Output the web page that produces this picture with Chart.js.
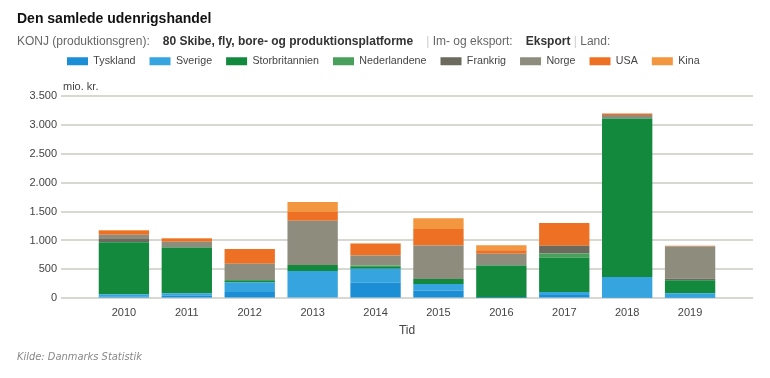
<!DOCTYPE html>
<html lang="da">
<head>
<meta charset="utf-8">
<title>Den samlede udenrigshandel</title>
<script src="https://cdn.jsdelivr.net/npm/chart.js@4/dist/chart.umd.min.js"></script>
<style>
  html, body { margin: 0; padding: 0; background: #fff; }
  body { width: 770px; height: 378px; position: relative; overflow: hidden;
         font-family: 'Liberation Sans', Arial, sans-serif; }
  .title { position: absolute; left: 17px; top: 10px; font-size: 14px; font-weight: bold; color: #111; }
  .subtitle { position: absolute; left: 17px; top: 34px; font-size: 12px; color: #666; white-space: nowrap; }
  .subtitle b { color: #333; }
  .subtitle .sep { color: #ccc; }
  .gap { display: inline-block; width: 13px; }
  .source { position: absolute; left: 17px; top: 350px; font-size: 11px; font-style: italic; color: #888;
            font-family: 'Liberation Sans Narrow', 'DejaVu Sans Condensed', Arial, sans-serif; }
  .chart-wrap { position: absolute; left: 0; top: 0; width: 770px; height: 378px; }
</style>
</head>
<body>
<div class="chart-wrap"><canvas id="trade-chart"></canvas></div>
<div class="title">Den samlede udenrigshandel</div>
<div class="subtitle">KONJ (produktionsgren):<span class="gap"></span><b>80 Skibe, fly, bore- og produktionsplatforme</b><span class="gap"></span><span class="sep">|</span> Im- og eksport:<span class="gap"></span><b>Eksport</b> <span class="sep">|</span> Land:</div>
<div class="source">Kilde: Danmarks Statistik</div>
<script>
const years = ['2010', '2011', '2012', '2013', '2014', '2015', '2016', '2017', '2018', '2019'];
const yTicks = [0, 500, 1000, 1500, 2000, 2500, 3000, 3500];

// mio. kr. per land
const tyskland = [30, 50, 110, 15, 270, 135, 5, 60, 10, 10];
const sverige = [40, 40, 165, 460, 240, 115, 5, 50, 360, 77];
const storbritannien = [900, 790, 40, 100, 45, 85, 560, 595, 2735, 225];
const nederlandene = [5, 0, 0, 0, 13, 0, 0, 70, 0, 0];
const frankrig = [50, 5, 0, 0, 0, 0, 0, 133, 0, 30];
const norge = [75, 95, 285, 765, 173, 577, 200, 0, 63, 553];
const usa = [70, 52, 254, 150, 202, 288, 63, 392, 23, 12];
const kina = [10, 10, 0, 173, 10, 185, 86, 0, 0, 0];

const series = [
  { label: 'Tyskland', data: tyskland, colour: '#1b8ed5' },
  { label: 'Sverige', data: sverige, colour: '#35a4df' },
  { label: 'Storbritannien', data: storbritannien, colour: '#13893e' },
  { label: 'Nederlandene', data: nederlandene, colour: '#48a05a' },
  { label: 'Frankrig', data: frankrig, colour: '#6b6a5c' },
  { label: 'Norge', data: norge, colour: '#8e8c7d' },
  { label: 'USA', data: usa, colour: '#ee7024' },
  { label: 'Kina', data: kina, colour: '#f2963f' },
];

function formatThousands(value) {
  return String(value).replace(/\B(?=(\d{3})+(?!\d))/g, '.');
}

// empty slot at each end so the grid runs past the first and last bar
const paddedLabels = ['', ...years, ''];

const unitLabelPlugin = {
  id: 'unitLabel',
  afterDraw(chart) {
    const { ctx, chartArea } = chart;
    ctx.save();
    ctx.fillStyle = '#444';
    ctx.font = "11px 'Liberation Sans', Arial, sans-serif";
    ctx.textAlign = 'left';
    ctx.textBaseline = 'middle';
    ctx.fillText('mio. kr.', chartArea.left + 2, chartArea.top - 9);
    ctx.restore();
  },
};

// extra room under the legend, and shift it right to sit over the plot
const legendTweakPlugin = {
  id: 'legendTweak',
  beforeInit(chart) {
    const legend = chart.legend;
    const originalFit = legend.fit;
    const originalDraw = legend.draw;
    legend.fit = function fit() {
      originalFit.call(this);
      this.height += 19;
    };
    legend.draw = function draw(...args) {
      this.ctx.save();
      this.ctx.translate(33, 0);
      originalDraw.apply(this, args);
      this.ctx.restore();
    };
  },
};

Chart.defaults.font.family = "'Liberation Sans', Arial, sans-serif";
Chart.defaults.color = '#444';

new Chart(document.getElementById('trade-chart'), {
  type: 'bar',
  data: {
    labels: paddedLabels,
    datasets: series.map((s) => ({
      label: s.label,
      data: [null, ...s.data, null],
      backgroundColor: s.colour,
      borderWidth: 0,
      barPercentage: 0.8,
      categoryPercentage: 1,
    })),
  },
  plugins: [legendTweakPlugin, unitLabelPlugin],
  options: {
    responsive: true,
    maintainAspectRatio: false,
    animation: false,
    layout: { padding: { top: 42, left: 20, right: 17, bottom: 40 } },
    plugins: {
      legend: {
        position: 'top',
        align: 'start',
        labels: {
          boxWidth: 21,
          boxHeight: 8,
          padding: 14,
          color: '#444',
          font: { size: 10.7 },
        },
      },
      tooltip: { enabled: false },
    },
    scales: {
      x: {
        stacked: true,
        offset: false,
        grid: { display: false },
        border: { display: false },
        ticks: { color: '#444', font: { size: 11 }, padding: 0, maxRotation: 0, autoSkip: false },
        title: { display: true, text: 'Tid', color: '#444', font: { size: 12 }, padding: { top: 4, bottom: 0 } },
      },
      y: {
        stacked: true,
        min: 0,
        max: yTicks[yTicks.length - 1],
        afterBuildTicks(axis) {
          axis.ticks = yTicks.map((v) => ({ value: v }));
        },
        afterFit(axis) {
          axis.width = 41;
        },
        grid: { color: '#d8d8d3', lineWidth: 2, drawTicks: false },
        border: { display: false },
        ticks: {
          color: '#444',
          font: { size: 11 },
          padding: 4,
          callback: (value) => formatThousands(value),
        },
      },
    },
  },
});
</script>
</body>
</html>
